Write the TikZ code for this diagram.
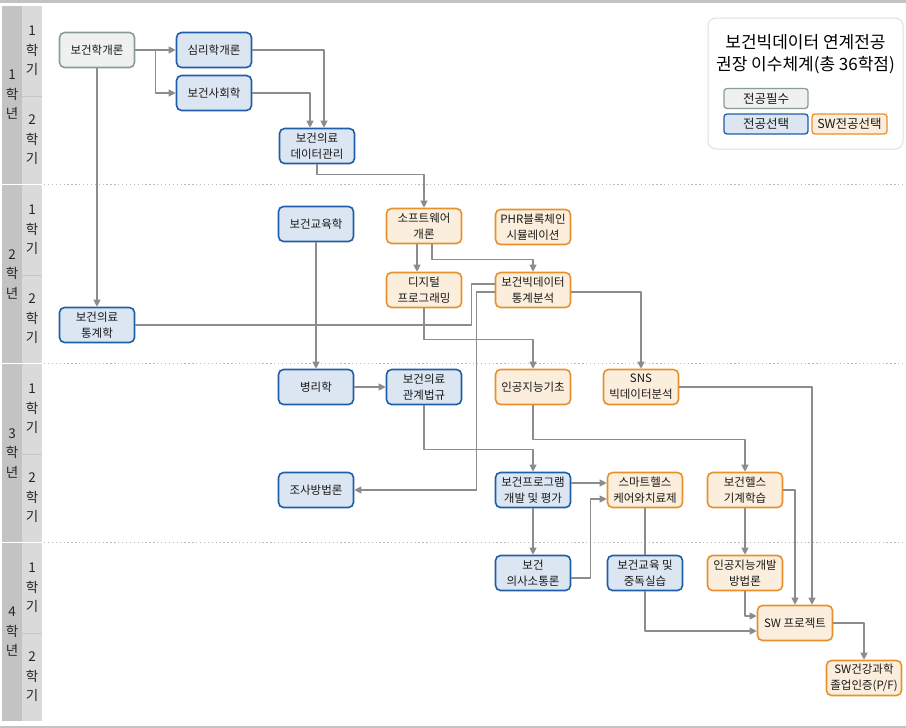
\documentclass[tikz,border=0pt]{standalone}
\usepackage{fontspec}
\setmainfont{Noto Sans CJK KR}
\usetikzlibrary{arrows.meta,calc}
\definecolor{reqfill}{HTML}{EEF1EF}
\definecolor{reqline}{HTML}{8A9C98}
\definecolor{selfill}{HTML}{DCE6F2}
\definecolor{selline}{HTML}{1F5EA8}
\definecolor{swfill}{HTML}{FCEEDD}
\definecolor{swline}{HTML}{E8912C}
\definecolor{linegray}{HTML}{8C8C8C}
\definecolor{yeargray}{HTML}{C3C3C3}
\definecolor{semgray}{HTML}{DADADA}
\tikzset{
	course/.style={rounded corners=5pt,line width=1.6pt,minimum width=75pt,minimum height=35pt,inner sep=1pt,align=center,text=black!90,font=\fontsize{11.5}{16}\selectfont},
	req/.style={course,draw=reqline,fill=reqfill},
	sel/.style={course,draw=selline,fill=selfill},
	sw/.style={course,draw=swline,fill=swfill},
	key/.style={minimum width=84pt,minimum height=20pt,rounded corners=3pt,line width=1.3pt,font=\fontsize{12.5}{14}\selectfont},
	band/.style={align=center,inner sep=0pt,font=\fontsize{13.5}{19.5}\selectfont,text=black!85},
	dotline/.style={draw=gray!55,line width=1.2pt,dash pattern=on 1.3pt off 2.6pt},
	conn/.style={draw=linegray,line width=1.1pt},
	arr/.style={conn,-{Triangle[length=7pt,width=7pt]}}
}
\begin{document}
\begin{tikzpicture}[x=1pt,y=-1pt,line join=round]
	\useasboundingbox (0,0) rectangle (906,728);
	%위아래 굵은 선
	\fill[yeargray] (0,0) rectangle (906,2.5);
	\fill[yeargray] (0,725.5) rectangle (906,728);
	%학년, 학기 띠
	\foreach \yr [count=\i from 0] in {1,2,3,4}{
		\pgfmathsetmacro\ytop{6+179*\i}
		\fill[yeargray] (2,\ytop) rectangle (22,\ytop+178);
		\fill[semgray] (22,\ytop) rectangle (42,\ytop+178);
		\draw[gray!45,line width=0.6pt] (22,\ytop+90) -- (42,\ytop+90);
		\node[band] (yr\yr) at (12,\ytop+89) {\yr\\학\\년};
		\node[band] (sem\yr-1) at (32,\ytop+45) {1\\학\\기};
		\node[band] (sem\yr-2) at (32,\ytop+134) {2\\학\\기};
	}
	\foreach \y in {184.5,363.5,542.5} \draw[dotline] (44,\y) -- (906,\y);
	%범례
	\node[draw=gray!25,line width=1pt,rounded corners=8pt,minimum width=195pt,minimum height=131pt] (legend) at (805.5,83.5) {};
	\node[align=center,font=\fontsize{17}{22}\selectfont] (title) at (805.5,54) {보건빅데이터 연계전공\\권장 이수체계(총 36학점)};
	\node[req,key] (keyreq) at (766,98.5) {전공필수};
	\node[sel,key] (keysel) at (766,124) {전공선택};
	\node[sw,key,minimum width=75pt] (keysw) at (849.5,124) {SW전공선택};
	%1학년
	\node[req] (intro) at (97,50) {보건학개론};
	\node[sel] (psych) at (214,50) {심리학개론};
	\node[sel] (socio) at (214,93) {보건사회학};
	\node[sel] (datamgmt) at (317,146) {보건의료\\데이터관리};
	%2학년
	\node[sel] (hedu) at (316,224) {보건교육학};
	\node[sw] (swintro) at (424,226) {소프트웨어\\개론};
	\node[sw] (phr) at (533,227) {PHR블록체인\\시뮬레이션};
	\node[sw] (digital) at (424,290) {디지털\\프로그래밍};
	\node[sw] (bigdata) at (533,290) {보건빅데이터\\통계분석};
	\node[sel] (stats) at (97,325) {보건의료\\통계학};
	%3학년
	\node[sel] (patho) at (316,387) {병리학};
	\node[sel] (law) at (424,387) {보건의료\\관계법규};
	\node[sw] (aibasic) at (533,387) {인공지능기초};
	\node[sw] (sns) at (641,387) {SNS\\빅데이터분석};
	\node[sel] (survey) at (316,490) {조사방법론};
	\node[sel] (program) at (533,490) {보건프로그램\\개발 및 평가};
	\node[sw] (smart) at (645,490) {스마트헬스\\케어와치료제};
	\node[sw] (ml) at (745,490) {보건헬스\\기계학습};
	%4학년
	\node[sel] (commu) at (533,573) {보건\\의사소통론};
	\node[sel] (addict) at (645,573) {보건교육 및\\중독실습};
	\node[sw] (aidev) at (745,573) {인공지능개발\\방법론};
	\node[sw] (swproj) at (795,623) {SW 프로젝트};
	\node[sw] (grad) at (864,678) {SW건강과학\\졸업인증(P/F)};
	%선수과목 연결
	\draw[arr] (intro.east) -- (psych.west);
	\draw[arr] ($(intro.east)!0.5!(psych.west)$) |- (socio.west);
	\draw[arr] (psych.east) -| ([xshift=7pt]datamgmt.north);
	\draw[arr] (socio.east) -| ([xshift=-7pt]datamgmt.north);
	\draw[arr] (intro.south) -- (stats.north);
	\draw[arr] (datamgmt.south) -- ++(0,10) -| (swintro.north);
	\draw[arr] ([xshift=-7pt]swintro.south) -- ([xshift=-7pt]digital.north);
	\draw[arr] ([xshift=8pt]swintro.south) -- ++(0,15) -| (bigdata.north);
	\draw[conn] ([yshift=6pt]bigdata.west) -- ++(-23,0) |- (stats.east);
	\draw[arr] ([yshift=-2pt]bigdata.west) -- ++(-18,0) |- (survey.east);
	\draw[arr] ([yshift=-2pt]bigdata.east) -| (sns.north);
	\draw[arr] (digital.south) -- ++(0,31) -| (aibasic.north);
	\draw[arr] (hedu.south) -- (patho.north);
	\draw[arr] (patho.east) -- (law.west);
	\draw[arr] (law.south) -- ++(0,44) -| (program.north);
	\draw[arr] (aibasic.south) -- ++(0,34) -| (ml.north);
	\draw[arr] ([yshift=7pt]program.east) -- ([yshift=7pt]smart.west);
	\draw[arr] (program.south) -- (commu.north);
	\draw[arr] ([yshift=-5pt]commu.east) -- ++(19,0) |- ([yshift=-9pt]smart.west);
	\draw[conn] (smart.south) -- (addict.north);
	\draw[arr] (addict.south) |- ([yshift=-8pt]swproj.west);
	\draw[arr] (sns.east) -| ([xshift=17pt]swproj.north);
	\draw[arr] (ml.east) -| (swproj.north);
	\draw[arr] (ml.south) -- (aidev.north);
	\draw[arr] (aidev.south) |- ([yshift=7pt]swproj.west);
	\draw[arr] (swproj.east) -| (grad.north);
\end{tikzpicture}
\end{document}
